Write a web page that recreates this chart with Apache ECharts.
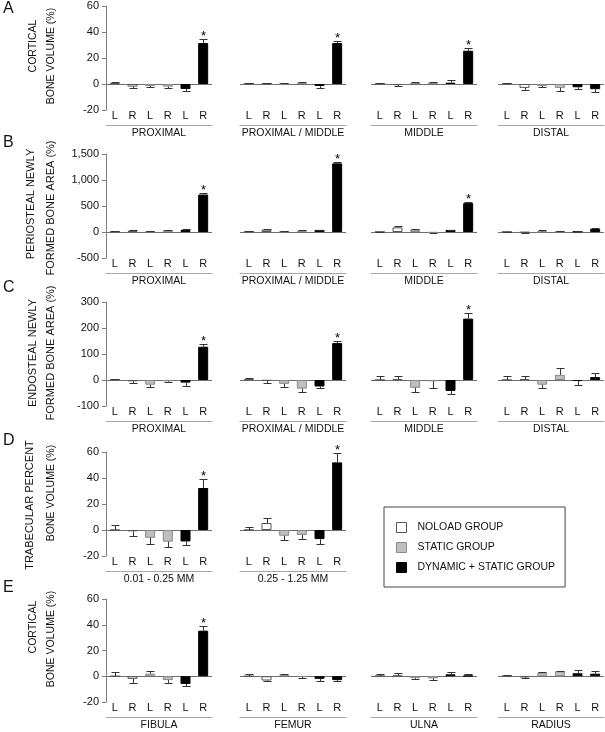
<!DOCTYPE html>
<html>
<head>
<meta charset="utf-8">
<script src="https://cdn.jsdelivr.net/npm/echarts@6/dist/echarts.min.js"></script>
<style>html,body{margin:0;padding:0;background:#fff}#c{width:605px;height:732px}</style>
</head>
<body>
<div id="c"></div>
<script>
// ---- data ----
const barCats = ['L', 'R', 'L', 'R', 'L', 'R'];
const groups = ['NOLOAD GROUP', 'STATIC GROUP', 'DYNAMIC + STATIC GROUP'];

const aPanels = ['PROXIMAL', 'PROXIMAL / MIDDLE', 'MIDDLE', 'DISTAL'];
const aMeans = [
  [0.5, -2, -1.5, -2, -3.8, 31.5],
  [0.4, 0.5, 0.3, 1, -1.5, 31.5],
  [0.3, -0.8, 1, 1, 1, 25.6],
  [0.5, -3, -1.5, -3, -2.5, -4]
];
const aErrs = [
  [1.2, -0.7, -0.5, -0.7, -1.6, 3],
  [0.5, 0.5, 0.4, 0.8, -1.8, 1.5],
  [0.7, -0.4, 0.5, 0.8, 2.2, 2.1],
  [0.3, -1.4, -0.7, -2, -1, -2]
];
const aStars = [1, 1, 1, 0];
const aTicks = [-20, 60, 20];

const bPanels = ['PROXIMAL', 'PROXIMAL / MIDDLE', 'MIDDLE', 'DISTAL'];
const bMeans = [
  [10, 25, 20, 35, 40, 720],
  [5, 45, 15, 25, 40, 1320],
  [5, 90, 45, -15, 40, 555],
  [5, -10, 10, 20, 10, 60]
];
const bErrs = [
  [5, 8, 5, 8, 15, 30],
  [5, 15, 5, 8, 8, 30],
  [3, 22, 12, -5, 8, 15],
  [3, -5, 30, 8, 5, 8]
];
const bStars = [1, 1, 1, 0];
const bTicks = [-500, 1500, 500];

const cPanels = ['PROXIMAL', 'PROXIMAL / MIDDLE', 'MIDDLE', 'DISTAL'];
const cMeans = [
  [2, -5, -18, -5, -10, 128],
  [2, -3, -15, -33, -25, 142],
  [0, 3, -30, -5, -42, 236],
  [0, 4, -18, 20, -4, 11]
];
const cErrs = [
  [3, -6, -8, -4, -13, 10],
  [6, -9, -13, -12, -5, 8],
  [16, 13, -15, -25, -13, 20],
  [17, 13, -13, 27, -17, 15]
];
const cStars = [1, 1, 1, 0];
const cTicks = [-100, 300, 100];

const dPanels = ['0.01 - 0.25 MM', '0.25 - 1.25 MM'];
const dMeans = [
  [0, -1, -6, -9, -8.8, 32.3],
  [0, 5.4, -4.4, -3.8, -7, 52]
];
const dErrs = [
  [3.8, -3.6, -4.8, -4.3, -2.7, 6.7],
  [2.3, 3.6, -3.6, -3.2, -3.5, 7]
];
const dStars = [1, 1];
const dTicks = [-20, 60, 20];

const ePanels = ['FIBULA', 'FEMUR', 'ULNA', 'RADIUS'];
const eMeans = [
  [0, -2, 2, -3, -6, 35.4],
  [0, -3.3, 1, -0.5, -2, -3],
  [0.3, 0.5, -1.5, -1.7, 1.5, 0.5],
  [0.2, -0.8, 2.8, 3.8, 2.3, 2]
];
const eErrs = [
  [3.5, -3, 2, -2.4, -1.5, 3.6],
  [1.5, -0.5, 0.8, -1, -1.6, -1],
  [1.5, 2, -0.5, -1.3, 2, 1.5],
  [1.1, -0.4, 0.5, 0.2, 2.3, 2]
];
const eStars = [1, 0, 0, 0];
const eTicks = [-20, 60, 20];

const yTitles = [
  ['CORTICAL', 'BONE VOLUME (%)'],
  ['PERIOSTEAL NEWLY', 'FORMED BONE AREA (%)'],
  ['ENDOSTEAL NEWLY', 'FORMED BONE AREA (%)'],
  ['TRABECULAR PERCENT', 'BONE VOLUME (%)'],
  ['CORTICAL', 'BONE VOLUME (%)']
];
const letters = ['A', 'B', 'C', 'D', 'E'];

// ---- layout ----
const FONT = 'Liberation Sans, Arial, sans-serif';
const panelLefts = [106, 240, 371, 498];
const panelW = 106, panelH = 104;
const rowTops = [6, 154, 302, 452, 599];
const letterY = [9, 143, 288, 441, 588];
const titlePos = [
  [[33, 46], [51, 56]],
  [[31, 204], [51, 208]],
  [[33, 353], [51, 353]],
  [[30, 505], [51, 493]],
  [[33, 627], [51, 639]]
];
const titleSizes = [[10.5, 10.5], [11, 11], [11, 11], [11, 10.5], [10.5, 10.5]];
const fills = ['#ffffff', '#bfbfbf', '#000000'];
const borders = ['#555555', '#888888', '#000000'];

const rows = [
  {panels: aPanels, means: aMeans, errs: aErrs, stars: aStars, ticks: aTicks},
  {panels: bPanels, means: bMeans, errs: bErrs, stars: bStars, ticks: bTicks},
  {panels: cPanels, means: cMeans, errs: cErrs, stars: cStars, ticks: cTicks},
  {panels: dPanels, means: dMeans, errs: dErrs, stars: dStars, ticks: dTicks},
  {panels: ePanels, means: eMeans, errs: eErrs, stars: eStars, ticks: eTicks}
];

const grid = [], xAxis = [], yAxis = [], series = [], graphic = [];

function errRender(params, api) {
  const i = api.value(0);
  const p0 = api.coord([i, api.value(1)]);
  const p1 = api.coord([i, api.value(2)]);
  const x = Math.round(p0[0]) + 0.5;
  const y1 = Math.round(p1[1]) + 0.5;
  const kids = [
    {type: 'line', shape: {x1: x, y1: p0[1], x2: x, y2: y1}, style: {stroke: '#333', lineWidth: 1}},
    {type: 'line', shape: {x1: x - 4, y1: y1, x2: x + 4, y2: y1}, style: {stroke: '#333', lineWidth: 1}}
  ];
  if (api.value(3)) {
    kids.push({type: 'text', style: {text: '*', x: x, y: y1 - 3, align: 'center', verticalAlign: 'middle',
      fontSize: 13, fill: '#000', fontFamily: FONT}});
  }
  return {type: 'group', children: kids};
}

rows.forEach((row, r) => {
  const [mn, mx, iv] = row.ticks;
  row.panels.forEach((pname, p) => {
    const gi = grid.length;
    grid.push({left: panelLefts[p], top: rowTops[r], width: panelW, height: panelH});
    xAxis.push({
      gridIndex: gi, type: 'category', data: barCats, position: 'bottom', offset: 15,
      axisLine: {show: true, onZero: false, lineStyle: {color: '#a8a8a8', width: 1}},
      axisTick: {show: false},
      axisLabel: {inside: true, margin: 4, fontSize: 11, color: '#111', fontFamily: FONT},
      name: pname, nameLocation: 'middle', nameGap: 3,
      nameTextStyle: {fontSize: 10.5, color: '#111', fontFamily: FONT, verticalAlign: 'top'}
    });
    yAxis.push({
      gridIndex: gi, type: 'value', min: mn, max: mx, interval: iv, show: p === 0,
      axisLine: {show: true, lineStyle: {color: '#808080'}},
      axisTick: {show: true, length: 4, lineStyle: {color: '#808080'}},
      axisLabel: {fontSize: 11, color: '#111', margin: 7, fontFamily: FONT,
        formatter: v => v.toLocaleString('en-US')},
      splitLine: {show: false}
    });
    groups.forEach((g, k) => {
      const data = row.means[p].map((v, i) => (Math.floor(i / 2) === k ? v : '-'));
      const s = {
        type: 'bar', name: g, xAxisIndex: gi, yAxisIndex: gi, data: data,
        barWidth: 10, barGap: '-100%',
        itemStyle: {color: fills[k], borderColor: borders[k], borderWidth: 1},
        z: 3
      };
      if (k === 0) {
        s.markLine = {silent: true, symbol: ['none', 'none'], label: {show: false},
          lineStyle: {color: '#6e6e6e', type: 'solid', width: 1}, data: [{yAxis: 0}], z: 2};
      }
      series.push(s);
    });
    const edata = row.means[p].map((v, i) => [i, v, v + row.errs[p][i], (i === 5 && row.stars[p]) ? 1 : 0]);
    series.push({
      type: 'custom', xAxisIndex: gi, yAxisIndex: gi, data: edata, renderItem: errRender,
      encode: {x: 0, y: [1, 2]}, z: 4, silent: true
    });
  });
  graphic.push({type: 'text', left: 3, top: letterY[r] - 8,
    style: {text: letters[r], fontSize: 16, fill: '#111', fontFamily: FONT}});
  yTitles[r].forEach((t, j) => {
    graphic.push({type: 'text', x: titlePos[r][j][0], y: titlePos[r][j][1], rotation: Math.PI / 2,
      style: {text: t, align: 'center', verticalAlign: 'middle', fontSize: titleSizes[r][j], fill: '#111', fontFamily: FONT}});
  });
});

const chart = echarts.init(document.getElementById('c'), null, {renderer: 'canvas'});
chart.setOption({
  animation: false,
  backgroundColor: '#ffffff',
  textStyle: {fontFamily: FONT},
  grid, xAxis, yAxis, series, graphic,
  legend: {
    data: groups.map((g, k) => ({name: g, itemStyle: {color: fills[k], borderColor: borders[k], borderWidth: 1}})),
    orient: 'vertical', left: 384, top: 507,
    padding: [15, 10, 14, 12], itemGap: 9, itemWidth: 10, itemHeight: 10,
    borderColor: '#444', borderWidth: 1, selectedMode: false, icon: 'rect',
    itemStyle: {borderWidth: 1},
    textStyle: {fontSize: 10.5, color: '#111', fontFamily: FONT, padding: [0, 0, 0, 6]}
  }
});
</script>
</body>
</html>
